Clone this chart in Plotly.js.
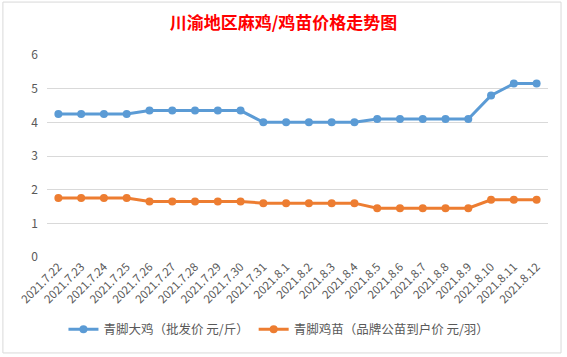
<!DOCTYPE html>
<html><head><meta charset="utf-8">
<script src="https://cdn.plot.ly/plotly-3.0.1.min.js"></script>
<style>html,body{margin:0;padding:0;background:#fff}#chart{width:567px;height:357px}</style>
</head><body><div id="chart"></div>
<script>
const dates = ["2021.7.22","2021.7.23","2021.7.24","2021.7.25","2021.7.26","2021.7.27","2021.7.28","2021.7.29","2021.7.30","2021.7.31","2021.8.1","2021.8.2","2021.8.3","2021.8.4","2021.8.5","2021.8.6","2021.8.7","2021.8.8","2021.8.9","2021.8.10","2021.8.11","2021.8.12"];
const bigChicken = [4.25,4.25,4.25,4.25,4.35,4.35,4.35,4.35,4.35,4.0,4.0,4.0,4.0,4.0,4.1,4.1,4.1,4.1,4.1,4.8,5.15,5.15];
const chick = [1.75,1.75,1.75,1.75,1.65,1.65,1.65,1.65,1.65,1.6,1.6,1.6,1.6,1.6,1.45,1.45,1.45,1.45,1.45,1.7,1.7,1.7];
const names = ["青脚大鸡（批发价 元/斤）","青脚鸡苗（品牌公苗到户价 元/羽）"];
const font = '"Noto Sans CJK SC", "Noto Sans", sans-serif';
const traces = [
 {x:dates,y:bigChicken,name:names[0],type:'scatter',mode:'lines+markers',line:{color:'#5B9BD5',width:3},marker:{color:'#5B9BD5',size:8}},
 {x:dates,y:chick,name:names[1],type:'scatter',mode:'lines+markers',line:{color:'#ED7D31',width:3},marker:{color:'#ED7D31',size:8}}
];
const layout = {
 width:567,height:357,
 margin:{l:47,r:19,t:55,b:100},
 paper_bgcolor:'#fff',plot_bgcolor:'#fff',
 font:{family:font,color:'#595959',size:12},
 title:{text:'<b>川渝地区麻鸡/鸡苗价格走势图</b>',font:{family:'"Noto Sans CJK SC", serif',size:17,color:'#FF0000'},x:0.5,xanchor:'center',y:0.935,yanchor:'middle'},
 xaxis:{type:'category',tickangle:-45,showgrid:false,zeroline:false,showline:false,ticks:'',tickfont:{size:11.5,color:'#595959'},range:[-0.5,21.5]},
 yaxis:{range:[0,6],dtick:1,gridcolor:'#D9D9D9',gridwidth:1,zeroline:false,showline:false,ticks:'',tickfont:{size:12,color:'#595959'},ticklabelstandoff:8},
 legend:{orientation:'h',x:0.463,xanchor:'center',y:-0.36,yanchor:'middle',font:{size:12.5,color:'#595959'},itemwidth:30},
 shapes:[{type:'rect',xref:'paper',yref:'paper',x0:-0.088,x1:1.026,y0:-0.475,y1:1.262,line:{color:'#D9D9D9',width:1}}],
 showlegend:true
};
Plotly.newPlot('chart',traces,layout,{displayModeBar:false,staticPlot:true});
</script></body></html>
